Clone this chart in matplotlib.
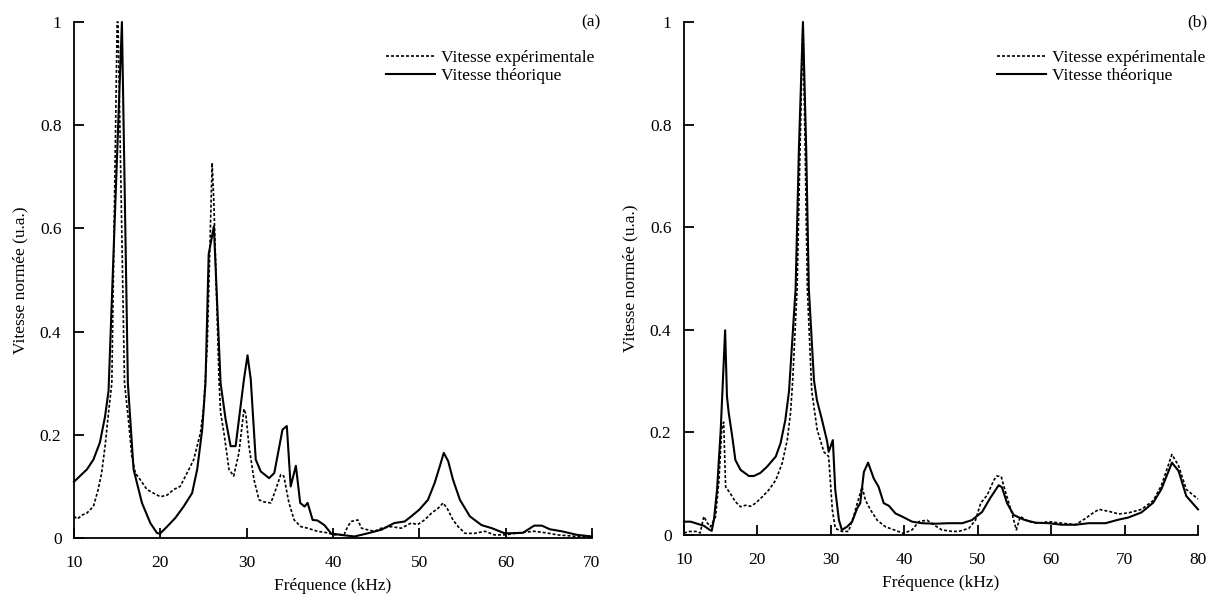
import matplotlib
matplotlib.use("Agg")
import matplotlib.pyplot as plt
from matplotlib.ticker import FuncFormatter

plt.rcParams['font.family'] = ['Liberation Serif', 'DejaVu Serif']
plt.rcParams['font.size'] = 12.5

# panel (a)
freq_a_th = [10.0, 11.5, 12.25, 13.0, 13.6, 14.0, 15.55, 16.24, 16.9, 17.87, 18.84, 19.6, 19.93,
             20.78, 21.74, 22.7, 23.68, 24.27, 24.85, 25.23, 25.6, 26.2, 26.98, 27.56, 28.14,
             28.72, 29.3, 29.69, 30.1, 30.47, 31.05, 31.63, 32.6, 33.2, 34.15, 34.65, 35.1,
             35.7, 36.2, 36.7, 37.06, 37.64, 38.2, 39.0, 39.77, 40.9, 42.5, 44.0, 45.6, 47.1,
             48.3, 49.07, 50.0, 51.0, 51.78, 52.37, 52.83, 53.34, 53.9, 54.7, 55.85, 57.2,
             58.4, 59.9, 62.0, 63.3, 64.2, 65.1, 66.5, 68.3, 70.0]
vit_a_th = [0.109, 0.133, 0.152, 0.185, 0.236, 0.285, 1.0, 0.3, 0.133, 0.068, 0.029, 0.01, 0.008,
            0.022, 0.039, 0.061, 0.087, 0.133, 0.21, 0.3, 0.55, 0.604, 0.3, 0.23, 0.178,
            0.178, 0.256, 0.308, 0.354, 0.308, 0.152, 0.129, 0.116, 0.126, 0.21, 0.217, 0.1,
            0.14, 0.068, 0.061, 0.068, 0.035, 0.034, 0.025, 0.009, 0.006, 0.003, 0.009, 0.016, 0.029,
            0.032, 0.042, 0.055, 0.074, 0.107, 0.139, 0.165, 0.149, 0.113, 0.074, 0.042, 0.025,
            0.019, 0.009, 0.01, 0.024, 0.024, 0.017, 0.013, 0.006, 0.003]

freq_a_exp = [10.0, 10.4, 11.0, 11.47, 12.25, 12.8, 13.2, 13.6, 14.0, 14.38, 15.0, 15.1, 15.85,
              16.3, 16.7, 17.1, 17.67, 18.45, 19.2, 20.0, 20.78, 21.55, 22.3, 23.1, 23.87,
              24.65, 25.0, 25.43, 26.0, 26.2, 26.8, 26.98, 27.4, 27.95, 28.5, 29.1, 29.69,
              29.9, 30.27, 30.85, 31.43, 32.0, 32.8, 33.37, 33.95, 34.3, 34.9, 35.5, 36.28,
              37.06, 38.2, 39.4, 40.1, 41.3, 41.7, 42.1, 42.87, 43.3, 44.0, 44.8, 45.6, 46.75,
              47.9, 49.07, 49.8, 50.6, 51.4, 52.2, 52.76, 53.3, 53.9, 54.5, 55.3, 56.4, 57.6,
              58.7, 59.9, 61.5, 63.3, 64.7, 66.0, 68.3, 70.0]
vit_a_exp = [0.042, 0.037, 0.045, 0.048, 0.061, 0.094, 0.126, 0.178, 0.243, 0.3, 1.0, 1.0, 0.3,
             0.23, 0.158, 0.126, 0.113, 0.094, 0.087, 0.08, 0.083, 0.094, 0.1, 0.126, 0.152,
             0.204, 0.25, 0.37, 0.727, 0.65, 0.305, 0.243, 0.2, 0.133, 0.12, 0.165, 0.25,
             0.24, 0.178, 0.113, 0.074, 0.07, 0.068, 0.094, 0.123, 0.12, 0.068, 0.035, 0.022,
             0.019, 0.013, 0.01, 0.006, 0.007, 0.022, 0.032, 0.035, 0.019, 0.016, 0.013, 0.019, 0.022,
             0.019, 0.029, 0.026, 0.035, 0.048, 0.058, 0.068, 0.055, 0.035, 0.022, 0.009, 0.009, 0.013,
             0.006, 0.006, 0.01, 0.013, 0.01, 0.006, 0.003, 0.002]

# panel (b)
freq_b_th = [10.0, 10.9, 11.8, 12.7, 13.4, 13.77, 14.08, 14.5, 15.0, 15.6, 15.85, 16.1, 16.57,
             17.0, 17.7, 18.84, 19.5, 20.4, 21.3, 22.5, 23.15, 23.8, 24.3, 25.2, 25.65, 26.2,
             26.64, 27.0, 27.7, 28.1, 28.8, 29.5, 29.7, 30.27, 30.6, 31.1, 31.5, 32.2, 32.9,
             33.58, 34.0, 34.5, 35.07, 35.85, 36.5, 37.2, 37.9, 38.8, 39.7, 41.06, 42.4, 44.2,
             46.05, 47.9, 49.2, 50.6, 51.7, 52.86, 53.3, 54.0, 54.9, 56.26, 57.85, 59.66, 61.47,
             63.3, 65.1, 67.4, 69.2, 70.5, 72.3, 73.9, 75.0, 76.45, 77.35, 78.4, 80.0]
vit_b_th = [0.026, 0.026, 0.022, 0.018, 0.011, 0.008, 0.03, 0.088, 0.205, 0.399, 0.27, 0.237, 0.192,
            0.146, 0.127, 0.115, 0.115, 0.121, 0.133, 0.153, 0.179, 0.224, 0.28, 0.48, 0.754, 1.0,
            0.754, 0.48, 0.302, 0.263, 0.224, 0.182, 0.162, 0.185, 0.088, 0.029, 0.01, 0.016, 0.026,
            0.052, 0.062, 0.123, 0.141, 0.11, 0.094, 0.062, 0.057, 0.042, 0.036, 0.026, 0.023, 0.022,
            0.023, 0.023, 0.029, 0.045, 0.072, 0.097, 0.093, 0.062, 0.039, 0.03, 0.024, 0.023, 0.02,
            0.02, 0.023, 0.023, 0.03, 0.034, 0.044, 0.063, 0.089, 0.141, 0.125, 0.076, 0.05]

freq_b_exp = [10.0, 10.8, 11.6, 12.2, 12.7, 13.2, 13.6, 14.3, 14.76, 15.13, 15.4, 15.67, 16.3,
              17.0, 17.7, 18.4, 19.05, 19.75, 20.7, 21.56, 22.5, 23.37, 24.06, 24.5, 24.8, 25.4,
              25.8, 26.2, 26.5, 26.8, 27.4, 28.14, 29.05, 29.7, 30.2, 30.6, 31.5, 32.4, 33.1,
              33.6, 34.26, 34.7, 35.4, 36.3, 37.44, 38.8, 39.9, 41.06, 41.97, 43.1, 44.0, 45.1,
              46.5, 47.4, 48.8, 49.7, 50.4, 51.3, 52.2, 52.6, 53.2, 53.7, 54.67, 55.26, 55.8,
              56.9, 58.3, 59.66, 61.5, 63.3, 64.65, 65.6, 66.5, 67.9, 69.2, 70.5, 72.3, 73.9,
              75.0, 76.45, 77.35, 78.4, 80.0]
vit_b_exp = [0.004, 0.007, 0.007, 0.004, 0.036, 0.023, 0.016, 0.036, 0.107, 0.205, 0.22, 0.094, 0.081,
             0.065, 0.055, 0.058, 0.056, 0.062, 0.075, 0.088, 0.107, 0.14, 0.185, 0.237, 0.3, 0.48,
             0.75, 1.0, 0.75, 0.48, 0.28, 0.205, 0.162, 0.153, 0.049, 0.013, 0.007, 0.007, 0.036,
             0.062, 0.094, 0.068, 0.049, 0.029, 0.016, 0.009, 0.003, 0.01, 0.026, 0.029, 0.02, 0.01,
             0.007, 0.007, 0.013, 0.029, 0.062, 0.078, 0.107, 0.115, 0.114, 0.088, 0.042, 0.01, 0.036,
             0.026, 0.023, 0.026, 0.023, 0.02, 0.032, 0.042, 0.05, 0.046, 0.041, 0.043, 0.05, 0.067,
             0.096, 0.157, 0.135, 0.089, 0.07]

labels = ['Vitesse expérimentale', 'Vitesse théorique']
dash = (0, (1.8, 1.2))

fig = plt.figure(figsize=(12.10, 5.96), dpi=100)
W, H = 1210, 596
ax_a = fig.add_axes([74 / W, 58 / H, 518 / W, 516 / H])
ax_b = fig.add_axes([684 / W, 61 / H, 514 / W, 513 / H])

panels = [
    (ax_a, freq_a_exp, vit_a_exp, freq_a_th, vit_a_th, (10, 70), '(a)', 600, 441),
    (ax_b, freq_b_exp, vit_b_exp, freq_b_th, vit_b_th, (10, 80), '(b)', 1207, 1052),
]

for ax, fe, ve, ft, vt, xl, tag, tag_x, leg_x in panels:
    ax.plot(fe, ve, color='black', lw=1.2, linestyle=dash, label=labels[0], clip_on=False)
    ax.plot(ft, vt, color='black', lw=1.5, label=labels[1], clip_on=False)
    ax.set_xlim(*xl)
    ax.set_ylim(0, 1)
    ax.set_xticks(range(xl[0], xl[1] + 1, 10))
    ax.set_yticks([0, 0.2, 0.4, 0.6, 0.8, 1.0])
    ax.yaxis.set_major_formatter(FuncFormatter(lambda v, p: '%g' % v))
    ax.spines['top'].set_visible(False)
    ax.spines['right'].set_visible(False)
    for s in ('left', 'bottom'):
        ax.spines[s].set_linewidth(1.3)
    ax.tick_params(axis='both', direction='in', length=7, width=1.3)
    ax.tick_params(axis='y', pad=9)
    ax.tick_params(axis='x', pad=12)
    ax.set_xlabel('Fréquence (kHz)', labelpad=5)
    ax.set_ylabel('Vitesse normée (u.a.)', labelpad=8)
    fig.text(tag_x / W, 1 - 22 / H, tag, ha='right', va='center')
    ax.legend(loc='upper left', bbox_to_anchor=((leg_x - 48 - 7) / W, 1 - 50 / H),
              bbox_transform=fig.transFigure, frameon=False, handlelength=2.8,
              handletextpad=0.35, labelspacing=0.1, borderpad=0, borderaxespad=0)

fig.savefig('out.png', dpi=100)
